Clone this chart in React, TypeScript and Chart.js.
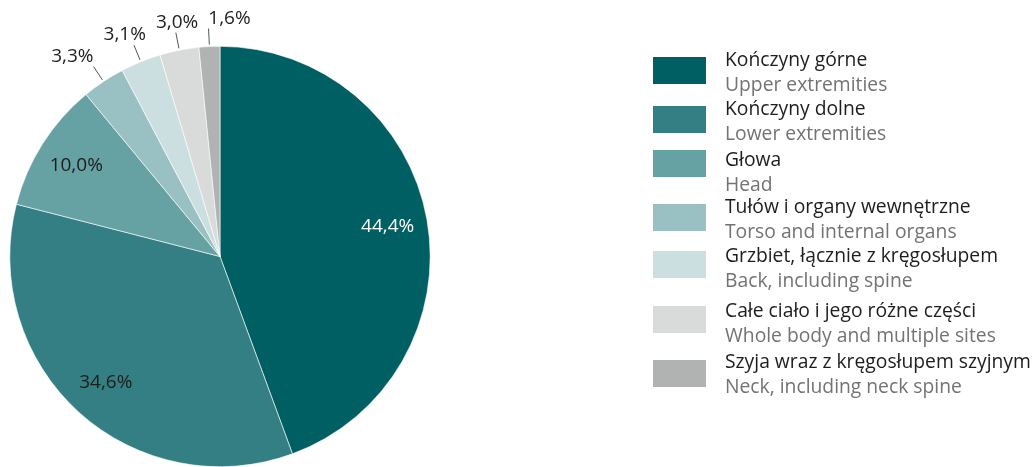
import React, { useEffect, useRef } from "react";
import { Chart, registerables } from "chart.js";

Chart.register(...registerables);

const categoriesPl = [
  "Kończyny górne",
  "Kończyny dolne",
  "Głowa",
  "Tułów i organy wewnętrzne",
  "Grzbiet, łącznie z kręgosłupem",
  "Całe ciało i jego różne części",
  "Szyja wraz z kręgosłupem szyjnym",
];
const categoriesEn = [
  "Upper extremities",
  "Lower extremities",
  "Head",
  "Torso and internal organs",
  "Back, including spine",
  "Whole body and multiple sites",
  "Neck, including neck spine",
];
const shares = [44.4, 34.6, 10.0, 3.3, 3.1, 3.0, 1.6];
const colors = ["#005f63", "#347f83", "#66a1a3", "#99c0c2", "#ccdfe0", "#d9dada", "#b1b2b2"];
const labelColors = ["#ffffff", "#1d1d1b", "#1d1d1b", "#1d1d1b", "#1d1d1b", "#1d1d1b", "#1d1d1b"];
const outsideFromIndex = 3;

// legend layout (pixels)
const legendSwatchTops = [57, 106, 150, 204, 251, 306, 360];
const legendBaselines = [66, 115, 166, 213, 262, 317, 368];

const FONT = "'Open Sans', 'Noto Sans', sans-serif";

const fmt = (v: number) => v.toFixed(1).replace(".", ",") + "%";

const labelPlugin = {
  id: "sliceLabels",
  afterDatasetsDraw(chart: any) {
    const ctx = chart.ctx;
    const meta = chart.getDatasetMeta(0);
    ctx.save();
    ctx.font = `19px ${FONT}`;
    let prevRight = -Infinity;
    meta.data.forEach((arc: any, i: number) => {
      const p = arc.getProps(["x", "y", "startAngle", "endAngle", "outerRadius"], true);
      const mid = (p.startAngle + p.endAngle) / 2;
      const c = Math.cos(mid);
      const s = Math.sin(mid);
      const R = p.outerRadius;
      const text = fmt(shares[i]);
      ctx.fillStyle = labelColors[i];
      if (i < outsideFromIndex) {
        ctx.textAlign = "center";
        ctx.textBaseline = "middle";
        ctx.fillText(text, p.x + c * R * 0.81, p.y + s * R * 0.81);
      } else {
        const x1 = p.x + c * (R + 2);
        const y1 = p.y + s * (R + 2);
        const x2 = p.x + c * (R + 18);
        const y2 = p.y + s * (R + 18);
        ctx.strokeStyle = "#555555";
        ctx.lineWidth = 1;
        ctx.beginPath();
        ctx.moveTo(x1, y1);
        ctx.lineTo(x2, y2);
        ctx.stroke();
        const w = ctx.measureText(text).width;
        let cx = x2 + c * w * 0.9;
        if (cx - w / 2 < prevRight + 10) cx = prevRight + 10 + w / 2;
        prevRight = cx + w / 2;
        ctx.textAlign = "center";
        ctx.textBaseline = "alphabetic";
        ctx.fillText(text, cx, y2 - 5);
      }
    });
    ctx.restore();
  },
  afterDraw(chart: any) {
    const ctx = chart.ctx;
    ctx.save();
    ctx.textAlign = "left";
    ctx.textBaseline = "alphabetic";
    categoriesPl.forEach((pl, i) => {
      ctx.fillStyle = colors[i];
      ctx.fillRect(653, legendSwatchTops[i], 53, 27);
      ctx.font = `19.3px ${FONT}`;
      ctx.fillStyle = "#1d1d1b";
      ctx.fillText(pl, 725, legendBaselines[i]);
      ctx.fillStyle = "#737373";
      ctx.fillText(categoriesEn[i], 725, legendBaselines[i] + 25);
    });
    ctx.restore();
  },
};

export default function App() {
  const ref = useRef<HTMLCanvasElement | null>(null);
  useEffect(() => {
    if (!ref.current) return;
    const chart = new Chart(ref.current, {
      type: "pie",
      data: {
        labels: categoriesPl,
        datasets: [
          {
            data: shares,
            backgroundColor: colors,
            borderColor: "#ffffff",
            borderWidth: 0.6,
          },
        ],
      },
      options: {
        responsive: false,
        animation: false,
        events: [],
        layout: { padding: { left: 9, top: 46, right: 603, bottom: 0 } },
        plugins: {
          legend: { display: false },
          tooltip: { enabled: false },
        },
      },
      plugins: [labelPlugin],
    });
    return () => chart.destroy();
  }, []);
  return (
    <div style={{ position: "absolute", left: 0, top: 0, width: 1034, height: 467, background: "#ffffff" }}>
      <canvas ref={ref} width={1034} height={467} style={{ display: "block" }} />
    </div>
  );
}
